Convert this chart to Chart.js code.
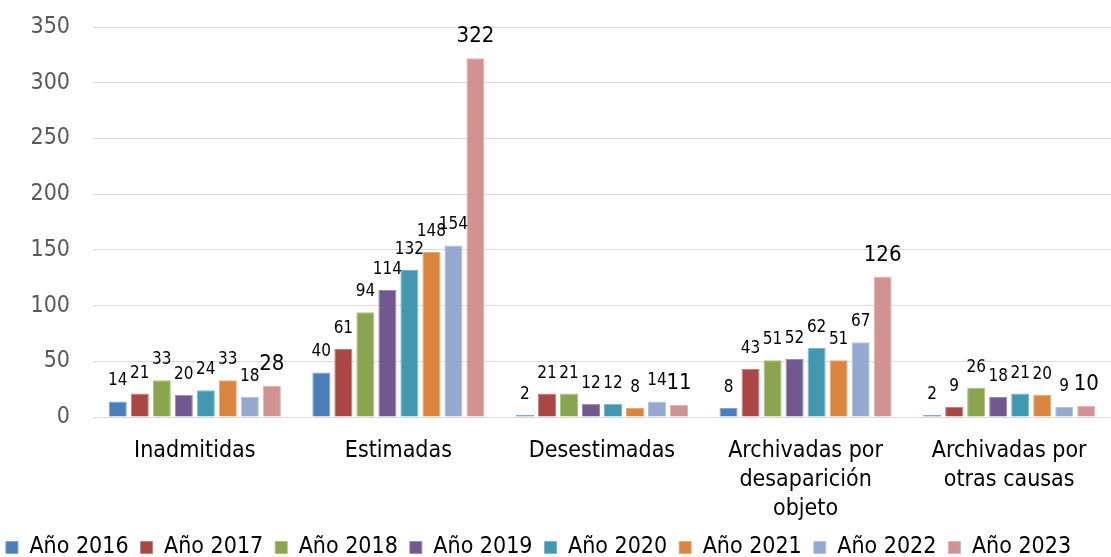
<!DOCTYPE html>
<html>
<head>
<meta charset="utf-8">
<script src="https://cdn.jsdelivr.net/npm/chart.js@4.4.1/dist/chart.umd.min.js"></script>
<style>
html,body{margin:0;padding:0;background:#fff;}
#wrap{width:1111px;height:557px;position:relative;}
</style>
</head>
<body>
<div id="wrap"><canvas id="c" width="1111" height="557"></canvas></div>
<script>
const categories = ["Inadmitidas", "Estimadas", "Desestimadas", ["Archivadas por", "desaparición", "objeto"], ["Archivadas por", "otras causas"]];
const seriesNames = ["Año 2016", "Año 2017", "Año 2018", "Año 2019", "Año 2020", "Año 2021", "Año 2022", "Año 2023"];
const y2016 = [14, 40, 2, 8, 2];
const y2017 = [21, 61, 21, 43, 9];
const y2018 = [33, 94, 21, 51, 26];
const y2019 = [20, 114, 12, 52, 18];
const y2020 = [24, 132, 12, 62, 21];
const y2021 = [33, 148, 8, 51, 20];
const y2022 = [18, 154, 14, 67, 9];
const y2023 = [28, 322, 11, 126, 10];
const yTicks = [0, 50, 100, 150, 200, 250, 300, 350];

const colors = ["#4A7EBB", "#AA4643", "#89A54E", "#71588F", "#4198AF", "#DB843D", "#93A9CF", "#D19392"];
const allSeries = [y2016, y2017, y2018, y2019, y2020, y2021, y2022, y2023];
const FONT = '"DejaVu Sans Condensed", "DejaVu Sans", sans-serif';

function tint(hex, f) {
  const n = parseInt(hex.slice(1), 16);
  const r = (n >> 16) & 255, g = (n >> 8) & 255, b = n & 255;
  const m = c => Math.round(c + (255 - c) * f);
  return 'rgb(' + m(r) + ',' + m(g) + ',' + m(b) + ')';
}

const labelPlugin = {
  id: 'barLabels',
  afterDatasetsDraw(chart) {
    const ctx = chart.ctx;
    ctx.save();
    chart.data.datasets.forEach((ds, i) => {
      const meta = chart.getDatasetMeta(i);
      const big = i === chart.data.datasets.length - 1;
      ctx.font = (big ? 22 : 17) + 'px ' + FONT;
      ctx.fillStyle = '#000';
      ctx.textAlign = 'center';
      ctx.textBaseline = 'alphabetic';
      meta.data.forEach((el, j) => {
        ctx.fillText(String(ds.data[j]), el.x, el.y - 16);
      });
    });
    ctx.restore();
  }
};

const legendShift = {
  id: 'legendShift',
  afterLayout(chart) {
    const lg = chart.legend;
    if (lg) { lg.left -= 17; lg.right -= 17; }
  }
};

new Chart(document.getElementById('c'), {
  type: 'bar',
  data: {
    labels: categories,
    datasets: allSeries.map((d, i) => ({
      label: seriesNames[i],
      data: d,
      backgroundColor: colors[i],
      borderColor: tint(colors[i], 0.3),
      borderWidth: 1,
      categoryPercentage: 0.865,
      barPercentage: 0.82
    }))
  },
  options: {
    responsive: false,
    animation: false,
    layout: { padding: { top: 27, left: 0, right: 0, bottom: -12 } },
    plugins: {
      legend: {
        position: 'bottom',
        labels: {
          font: { family: FONT, size: 23 },
          color: '#000',
          boxWidth: 12,
          boxHeight: 12,
          padding: 12
        }
      },
      tooltip: { enabled: false }
    },
    scales: {
      x: {
        grid: { display: false },
        border: { display: false },
        ticks: {
          font: { family: FONT, size: 23, lineHeight: 1.25 },
          color: '#000',
          padding: 12,
          maxRotation: 0,
          autoSkip: false
        },
        afterFit(s) { s.height = 107; }
      },
      y: {
        min: 0, max: 350,
        afterBuildTicks(s) { s.ticks = yTicks.map(v => ({ value: v })); },
        grid: { color: '#D9D9D9', lineWidth: 1, drawTicks: false },
        border: { display: false },
        ticks: {
          font: { family: FONT, size: 23 },
          color: '#595959',
          padding: 23
        },
        afterFit(s) { s.width = 93; s.paddingTop = 0; s.paddingBottom = 0; }
      }
    }
  },
  plugins: [labelPlugin, legendShift]
});
</script>
</body>
</html>
